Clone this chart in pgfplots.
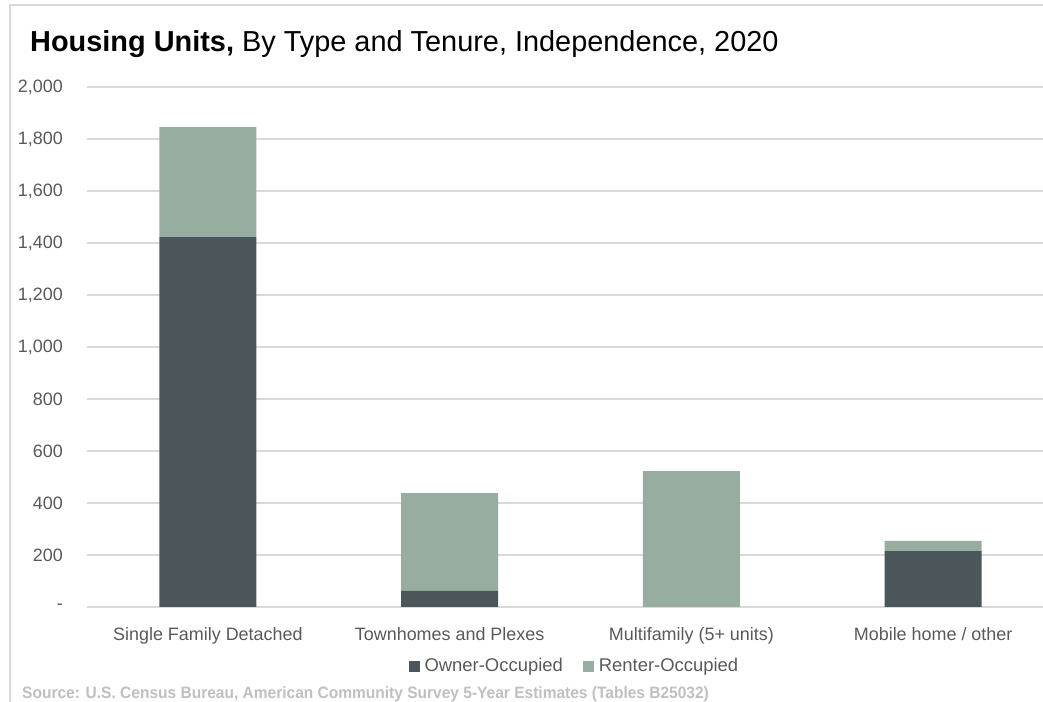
\documentclass[border=0pt]{standalone}
\usepackage{pgfplots}
\pgfplotsset{compat=1.18}
\usepackage{fontspec}
\setmainfont{Liberation Sans}
\definecolor{owner}{HTML}{4B565B}
\definecolor{renter}{HTML}{97AD9F}
\definecolor{gridc}{HTML}{D9D9D9}
\definecolor{tickc}{HTML}{595959}
\definecolor{srcc}{HTML}{BFBFBF}
\begin{document}
\begin{tikzpicture}[x=1bp,y=1bp]
\useasboundingbox (0,0) rectangle (1043,702);
\draw[gridc, line width=2bp] (9.5,0) -- (9.5,697) -- (1043,697);
\node[anchor=base west, inner sep=0, font=\fontsize{29}{32}\selectfont] at (30,650) {\textbf{Housing Units,} By Type and Tenure, Independence, 2020};
\node[anchor=base west, inner sep=0, text=srcc, font=\bfseries\fontsize{16.5}{18}\selectfont] at (22,3) {\scalebox{0.944}[1]{Source: U.S. Census Bureau, American Community Survey 5-Year Estimates (Tables B25032)}};
\begin{axis}[
  at={(87bp,95bp)}, anchor=south west,
  scale only axis, width=967bp, height=520bp,
  xmin=-0.5, xmax=3.5, ymin=0, ymax=2000,
  ybar stacked, bar width=97bp,
  axis line style={draw=none}, tick style={draw=none},
  ymajorgrids, grid style={gridc, line width=1.5bp},
  ytick={0,200,...,2000},
  yticklabels={{-},{200},{400},{600},{800},{1,000},{1,200},{1,400},{1,600},{1,800},{2,000}},
  yticklabel style={font=\fontsize{18}{20}\selectfont, text=tickc, anchor=east, inner sep=0, xshift=-24bp},
  xtick={0,1,2,3},
  xticklabels={Single Family Detached, Townhomes and Plexes, Multifamily (5+ units), Mobile home / other},
  xticklabel style={font=\fontsize{18}{20}\selectfont, text=tickc, anchor=base, inner sep=0, yshift=-34bp},
  legend style={at={(0.504,-0.113)}, anchor=center, draw=none, fill=none, legend columns=2,
    font=\fontsize{18.5}{20}\selectfont, text=tickc,
    /tikz/every odd column/.append style={column sep=3bp},
    /tikz/every even column/.append style={column sep=18bp}},
]
\addplot[fill=owner, draw=none, legend image code/.code={\fill[owner] (0bp,-6bp) rectangle (11bp,5bp);}] coordinates {(0,1423) (1,62) (2,0) (3,215)};
\addlegendentry{Owner-Occupied}
\addplot[fill=renter, draw=none, legend image code/.code={\fill[renter] (0bp,-6bp) rectangle (11bp,5bp);}] coordinates {(0,423) (1,376) (2,523) (3,39)};
\addlegendentry{Renter-Occupied}
\end{axis}
\end{tikzpicture}
\end{document}
